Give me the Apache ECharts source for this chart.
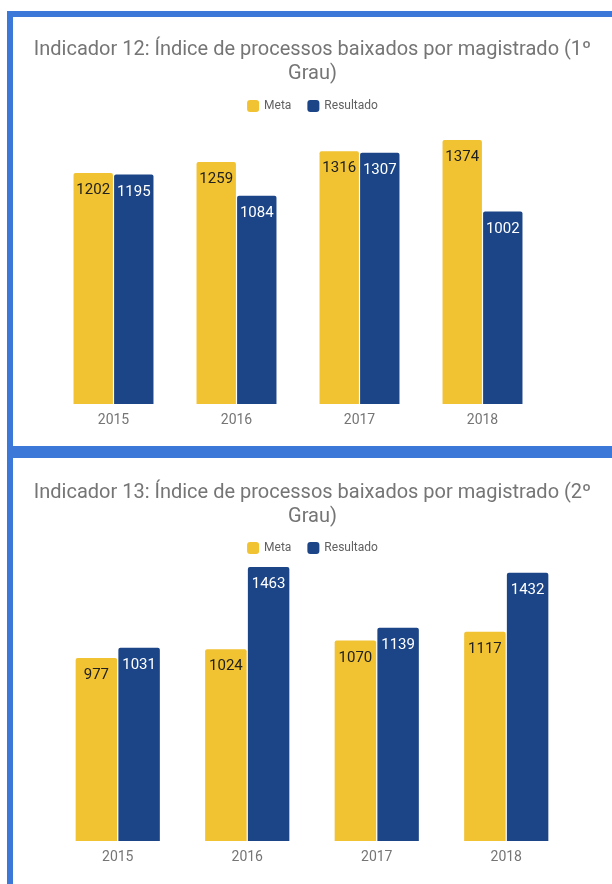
<!DOCTYPE html>
<html>
<head>
<meta charset="utf-8">
<script src="https://cdn.jsdelivr.net/npm/echarts@6/dist/echarts.min.js"></script>
<style>
  html, body { margin: 0; padding: 0; background: #fff; }
  body { width: 612px; height: 884px; position: relative; overflow: hidden; }
  .band { position: absolute; background: #3c78d8; }
  .chart { position: absolute; }
</style>
</head>
<body>
<div class="band" style="left:7px;top:11px;width:605px;height:6px"></div>
<div class="band" style="left:7px;top:11px;width:6px;height:873px"></div>
<div class="band" style="left:13px;top:446px;width:599px;height:12px"></div>
<div id="chart1" class="chart" style="left:13px;top:17px;width:599px;height:429px"></div>
<div id="chart2" class="chart" style="left:13px;top:458px;width:599px;height:426px"></div>
<script>
const years = ["2015", "2016", "2017", "2018"];

// Indicador 12 (1º Grau)
const meta12 = [1202, 1259, 1316, 1374];
const resultado12 = [1195, 1084, 1307, 1002];

// Indicador 13 (2º Grau)
const meta13 = [977, 1024, 1070, 1117];
const resultado13 = [1031, 1463, 1139, 1432];

const YELLOW = "#f1c232";
const BLUE = "#1c4587";
const FONT = "Roboto";

const makeOption = (title, meta, resultado, yMax, grid, titleTop, legendTop) => ({
  animation: false,
  textStyle: { fontFamily: FONT },
  title: {
    text: title,
    left: "center",
    top: titleTop,
    textStyle: {
      fontFamily: FONT,
      fontSize: 20,
      fontWeight: "normal",
      color: "#757575",
      lineHeight: 24,
    },
  },
  legend: {
    top: legendTop,
    left: "center",
    icon: "roundRect",
    itemWidth: 12,
    itemHeight: 12,
    itemGap: 16,
    textStyle: { fontFamily: FONT, fontSize: 12, color: "#616161" },
    data: ["Meta", "Resultado"],
  },
  grid: grid,
  xAxis: {
    type: "category",
    data: years,
    axisLine: { show: false },
    axisTick: { show: false },
    axisLabel: { fontFamily: FONT, fontSize: 14, color: "#757575", margin: 9 },
  },
  yAxis: {
    type: "value",
    min: 0,
    max: yMax,
    show: false,
    splitLine: { show: false },
  },
  series: [
    {
      name: "Meta",
      type: "bar",
      data: meta,
      barGap: "3%",
      barCategoryGap: "35%",
      itemStyle: { color: YELLOW, borderRadius: [2, 2, 0, 0] },
      label: {
        show: true,
        position: "insideTop",
        distance: 10,
        fontFamily: FONT,
        fontSize: 15,
        color: "#212121",
      },
    },
    {
      name: "Resultado",
      type: "bar",
      data: resultado,
      barGap: "3%",
      barCategoryGap: "35%",
      itemStyle: { color: BLUE, borderRadius: [2, 2, 0, 0] },
      label: {
        show: true,
        position: "insideTop",
        distance: 10,
        fontFamily: FONT,
        fontSize: 15,
        color: "#ffffff",
      },
    },
  ],
});

const chart1 = echarts.init(document.getElementById("chart1"));
chart1.setOption(
  makeOption(
    "Indicador 12: Índice de processos baixados por magistrado (1º\nGrau)",
    meta12,
    resultado12,
    1400,
    { left: 39, right: 68, top: 118, bottom: 42 },
    16,
    78
  )
);

const chart2 = echarts.init(document.getElementById("chart2"));
chart2.setOption(
  makeOption(
    "Indicador 13: Índice de processos baixados por magistrado (2º\nGrau)",
    meta13,
    resultado13,
    1500,
    { left: 40, right: 41, top: 102, bottom: 43 },
    18,
    79
  )
);
</script>
</body>
</html>
